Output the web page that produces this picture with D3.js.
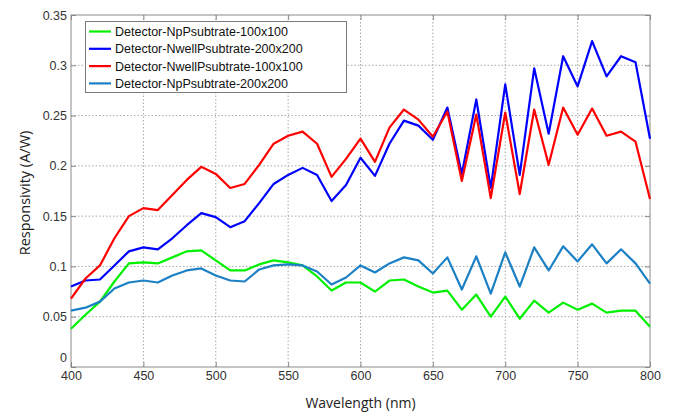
<!DOCTYPE html>
<html><head><meta charset="utf-8">
<script src="https://cdn.jsdelivr.net/npm/d3@7"></script>
<style>body{margin:0;background:#fff}svg{display:block}</style>
</head><body>
<script>
const wavelengths = d3.range(400, 801, 10);
const npP100 = [0.038,0.052,0.065,0.085,0.103,0.104,0.103,0.109,0.115,0.116,0.106,0.096,0.096,0.102,0.106,0.104,0.101,0.090,0.076,0.084,0.084,0.075,0.086,0.087,0.080,0.074,0.076,0.057,0.072,0.050,0.070,0.048,0.066,0.054,0.064,0.057,0.063,0.054,0.056,0.056,0.040];
const nwell200 = [0.080,0.086,0.087,0.101,0.115,0.119,0.117,0.128,0.141,0.153,0.149,0.139,0.145,0.163,0.182,0.191,0.198,0.191,0.165,0.181,0.208,0.190,0.222,0.245,0.240,0.226,0.258,0.192,0.266,0.178,0.281,0.191,0.297,0.232,0.309,0.279,0.324,0.289,0.309,0.303,0.227];
const nwell100 = [0.068,0.088,0.101,0.128,0.150,0.158,0.156,0.171,0.186,0.199,0.192,0.178,0.182,0.201,0.222,0.230,0.234,0.222,0.189,0.207,0.227,0.204,0.238,0.256,0.246,0.229,0.254,0.185,0.251,0.168,0.253,0.172,0.256,0.201,0.258,0.231,0.257,0.230,0.234,0.224,0.167];
const npP200 = [0.056,0.059,0.065,0.078,0.084,0.086,0.084,0.091,0.096,0.098,0.091,0.086,0.085,0.097,0.101,0.102,0.101,0.095,0.082,0.089,0.101,0.094,0.103,0.109,0.106,0.093,0.109,0.077,0.110,0.073,0.114,0.080,0.119,0.096,0.120,0.105,0.122,0.103,0.117,0.103,0.083];
const seriesNames = ["Detector-NpPsubtrate-100x100","Detector-NwellPsubtrate-200x200","Detector-NwellPsubtrate-100x100","Detector-NpPsubtrate-200x200"];
const seriesColors = ["#00f000","#0000ff","#ff0000","#1b80c4"];
const xTicks = [400,450,500,550,600,650,700,750,800];
const yTicks = [0,0.05,0.1,0.15,0.2,0.25,0.3,0.35];
const yTickLabels = ["0","0.05","0.1","0.15","0.2","0.25","0.3","0.35"];
const allSeries = [npP100, nwell200, nwell100, npP200];

const W = 674, H = 415;
const L = 71, R = 650, T = 15, B = 367;
const svg = d3.select("body").append("svg").attr("width", W).attr("height", H);
const x = d3.scaleLinear().domain([400, 800]).range([L, R]);
const y = d3.scaleLinear().domain([0, 0.35]).range([B, T]);

// grid
const g = svg.append("g");
g.selectAll(".vg").data(xTicks.slice(1, -1)).join("line")
  .attr("x1", d => x(d)).attr("x2", d => x(d)).attr("y1", T).attr("y2", B)
  .attr("stroke", "#a8a8a8").attr("stroke-width", 1).attr("stroke-dasharray", "1.5,2");
g.selectAll(".hg").data(yTicks.slice(1, -1)).join("line")
  .attr("x1", L).attr("x2", R).attr("y1", d => y(d)).attr("y2", d => y(d))
  .attr("stroke", "#a8a8a8").attr("stroke-width", 1).attr("stroke-dasharray", "1.5,2");

// axes
const font = "Liberation Sans, Arial, sans-serif";
const xAx = svg.append("g").attr("transform", `translate(0,${B})`)
  .call(d3.axisBottom(x).tickValues(xTicks).tickSizeInner(-5).tickSizeOuter(0).tickPadding(9));
const yAx = svg.append("g").attr("transform", `translate(${L},0)`)
  .call(d3.axisLeft(y).tickValues(yTicks).tickFormat((d, i) => yTickLabels[i]).tickSizeInner(-5).tickSizeOuter(0).tickPadding(4));
const xTop = svg.append("g").attr("transform", `translate(0,${T})`)
  .call(d3.axisTop(x).tickValues(xTicks).tickSizeInner(-5).tickSizeOuter(0).tickFormat(""));
const yRight = svg.append("g").attr("transform", `translate(${R},0)`)
  .call(d3.axisRight(y).tickValues(yTicks).tickSizeInner(-5).tickSizeOuter(0).tickFormat(""));
[xAx, yAx, xTop, yRight].forEach(a => {
  a.select(".domain").remove();
  a.selectAll("line").attr("stroke", "#8a8a8a");
  a.selectAll("text").attr("font-family", font).attr("font-size", 12.5).attr("fill", "#333");
});
xAx.selectAll(".tick text").attr("dy", "0.3em");
yAx.selectAll(".tick text").filter(d => d === 0).attr("dy", "-0.45em");
svg.append("rect").attr("x", L).attr("y", T).attr("width", R - L).attr("height", B - T)
  .attr("fill", "none").attr("stroke", "#8a8a8a").attr("stroke-width", 1);

// lines
const line = d3.line().x((d, i) => x(wavelengths[i])).y(d => y(d));
svg.append("g").selectAll("path").data(allSeries).join("path")
  .attr("d", line).attr("fill", "none")
  .attr("stroke", (d, i) => seriesColors[i]).attr("stroke-width", 2.2)
  .attr("stroke-linejoin", "round");

// legend
const lg = svg.append("g");
lg.append("rect").attr("x", 85.5).attr("y", 21.5).attr("width", 261).attr("height", 71)
  .attr("fill", "#fff").attr("stroke", "#7a7a7a");
seriesNames.forEach((n, i) => {
  const yy = 31.5 + i * 17.3;
  lg.append("line").attr("x1", 89).attr("x2", 111).attr("y1", yy).attr("y2", yy)
    .attr("stroke", seriesColors[i]).attr("stroke-width", 2.2);
  lg.append("text").attr("x", 115).attr("y", yy).attr("dy", "0.36em")
    .attr("font-family", font).attr("font-size", 12.5).attr("fill", "#111").text(n);
});

// axis titles
svg.append("text").attr("x", (L + R) / 2).attr("y", 403).attr("dy", "0.35em")
  .attr("text-anchor", "middle").attr("font-family", "Open Sans, sans-serif").attr("font-size", 14)
  .attr("fill", "#222").text("Wavelength (nm)");
svg.append("text").attr("transform", "translate(25,193) rotate(-90)").attr("dy", "0.35em")
  .attr("text-anchor", "middle").attr("font-family", "Open Sans, sans-serif").attr("font-size", 14.5)
  .attr("fill", "#222").text("Responsivity (A/W)");
</script>
</body></html>
